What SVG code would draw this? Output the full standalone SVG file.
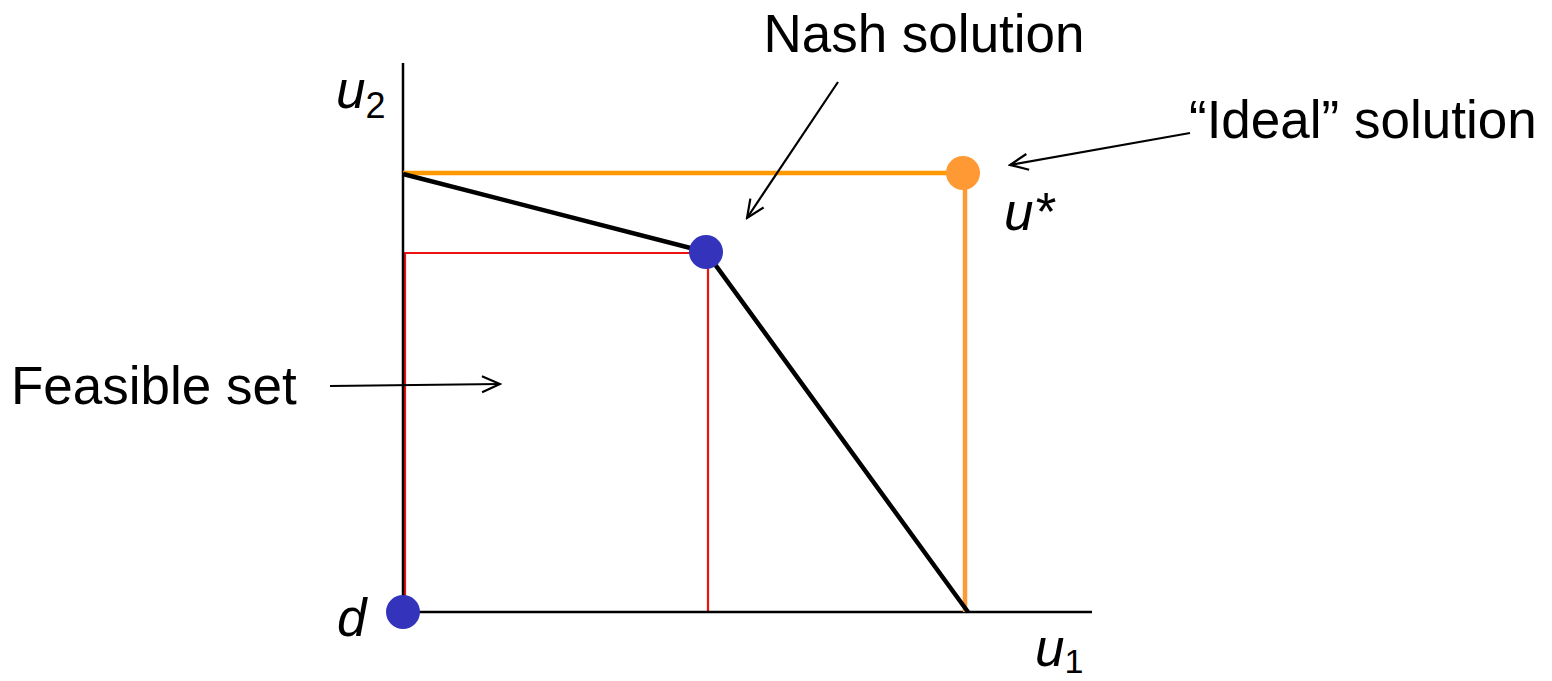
<svg xmlns="http://www.w3.org/2000/svg" width="1552" height="681" viewBox="0 0 1552 681">
<defs>
<marker id="open" viewBox="0 0 22 22" refX="20" refY="11" markerWidth="22" markerHeight="22" markerUnits="userSpaceOnUse" orient="auto">
<path d="M2,3 L20,11 L2,19" fill="none" stroke="#000" stroke-width="2.2"/>
</marker>
<style>
.t{font-family:"Liberation Sans",Arial,sans-serif;font-size:53px;fill:#000}
.i{font-style:italic}
.ax{stroke:#000;stroke-width:2.5;fill:none}
.ar{stroke:#000;stroke-width:2.2;fill:none;marker-end:url(#open)}
</style>
</defs>
<rect width="1552" height="681" fill="#fff"/>
<g id="feasible-rect">
<polyline points="405,612 405,253 708,253 708,612" fill="none" stroke="#EE1111" stroke-width="2.2"/>
</g>
<g id="axes">
<line class="ax" x1="403" y1="63" x2="403" y2="612"/>
<line class="ax" x1="403" y1="612" x2="1092" y2="612"/>
</g>
<g id="ideal-lines">
<line x1="403" y1="173" x2="963" y2="173" stroke="#FF9900" stroke-width="4.5"/>
<line x1="965" y1="173" x2="965" y2="612" stroke="#FF9933" stroke-width="4.5"/>
</g>
<g id="frontier">
<polyline points="403,174 706,252 968,612" fill="none" stroke="#000" stroke-width="4.5" stroke-linejoin="round"/>
</g>
<g id="connectors">
<line class="ar" x1="838" y1="82" x2="747" y2="218"/>
<line class="ar" x1="1190" y1="133" x2="1010" y2="165"/>
<line class="ar" x1="330" y1="386" x2="500" y2="384"/>
</g>
<g id="nash-point"><circle cx="706" cy="252" r="17" fill="#3333BB"/></g>
<g id="d-point"><circle cx="403" cy="612" r="17" fill="#3333BB"/></g>
<g id="ideal-point"><circle cx="963" cy="173" r="17" fill="#FF9933"/></g>
<g id="labels">
<text class="t" x="924" y="52" text-anchor="middle">Nash solution</text>
<text class="t" x="1189" y="138">“Ideal” solution</text>
<text class="t" x="11" y="404">Feasible set</text>
<text class="t i" x="1004" y="230">u*</text>
<text class="t i" x="336" y="108">u<tspan font-size="36" font-style="normal" dy="10">2</tspan></text>
<text class="t i" x="337" y="636">d</text>
<text class="t i" x="1035" y="666">u<tspan font-size="34" font-style="normal" dy="7">1</tspan></text>
</g>
</svg>
